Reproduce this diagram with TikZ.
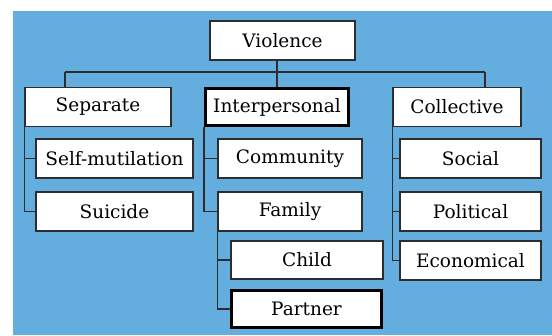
\documentclass[tikz,border=0pt]{standalone}
\usepackage{fontspec}
\setmainfont{DejaVu Serif}
\usepackage{tikz}
\usetikzlibrary{positioning, calc}
\definecolor{bgblue}{RGB}{99,173,223}
\definecolor{boxline}{RGB}{45,45,45}

\tikzset{
	box/.style={draw=boxline, line width=1.3pt, fill=white, inner sep=0pt, minimum height=39pt, font=\fontsize{18.5}{22}\selectfont},
	bold box/.style={box, draw=black, line width=3pt},
	link/.style={draw=boxline, line width=1.2pt}
}

\begin{document}
\begin{tikzpicture}[x=1pt, y=-1pt]
	\useasboundingbox (0,0) rectangle (552,335);
	\fill[bgblue] (13,11) rectangle (552,335);
	% top level
	\node[box, minimum width=145pt] (violence) at (282.5, 40.5) {Violence};
	\node[box, minimum width=146pt] (separate) at (98, 107) {Separate};
	\node[bold box, minimum width=143pt, minimum height=37pt] (interpersonal) at (277, 107) {Interpersonal};
	\node[box, minimum width=128pt] (collective) at (457, 107) {Collective};
	% separate
	\node[box, minimum width=157pt] (selfmut) at (114.5, 158.5) {Self-mutilation};
	\node[box, minimum width=157pt] (suicide) at (114.5, 211.5) {Suicide};
	% interpersonal
	\node[box, minimum width=144pt] (community) at (290, 158.5) {Community};
	\node[box, minimum width=144pt] (family) at (290, 211.5) {Family};
	\node[box, minimum width=152pt, minimum height=38pt] (child) at (307, 260) {Child};
	\node[bold box, minimum width=150pt, minimum height=37pt] (partner) at (306.5, 309) {Partner};
	% collective
	\node[box, minimum width=141pt] (social) at (470.5, 158.5) {Social};
	\node[box, minimum width=141pt] (political) at (470.5, 211.5) {Political};
	\node[box, minimum width=141pt] (economical) at (470.5, 260.5) {Economical};

	\coordinate (sepdrop) at (65, 72);
	\coordinate (coldrop) at (485, 72);
	\draw[link] (violence.south -| interpersonal.north) -- (interpersonal.north);
	\draw[link] (sepdrop) -- (coldrop);
	\draw[link] (sepdrop) -- (sepdrop |- separate.north);
	\draw[link] (coldrop) -- (coldrop |- collective.north);
	\draw[link] (separate.south west) |- (suicide.west);
	\draw[link] (separate.south west |- selfmut.west) -- (selfmut.west);
	\draw[link] (interpersonal.south west) |- (family.west);
	\draw[link] (interpersonal.south west |- community.west) -- (community.west);
	\draw[link] (family.south west) |- (partner.west);
	\draw[link] (family.south west |- child.west) -- (child.west);
	\draw[link] (collective.south west) |- (economical.west);
	\draw[link] (collective.south west |- social.west) -- (social.west);
	\draw[link] (collective.south west |- political.west) -- (political.west);
\end{tikzpicture}
\end{document}
